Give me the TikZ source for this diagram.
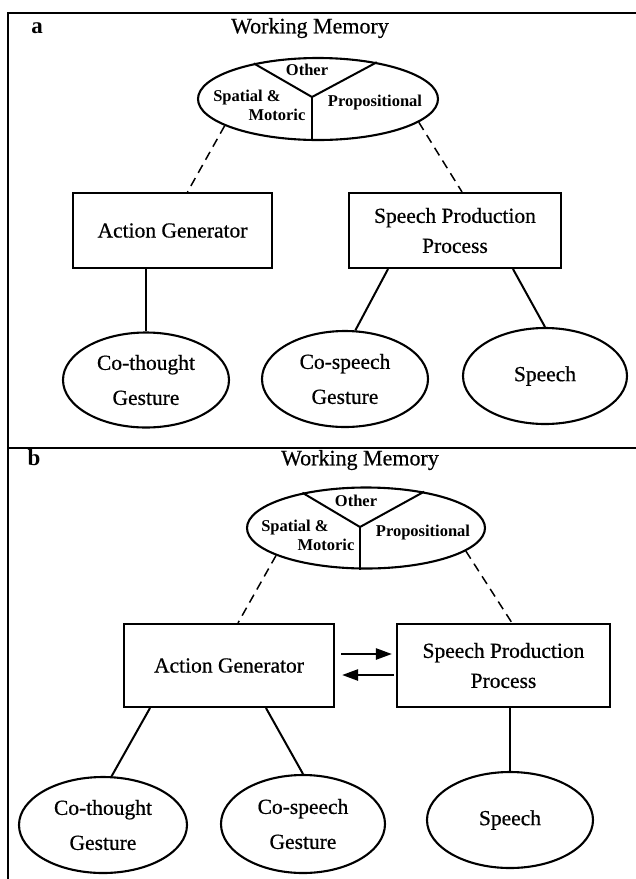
\documentclass[tikz,border=0pt]{standalone}
\usepackage{fontspec}
\setmainfont{Liberation Serif}
\newfontface\heavyserif{Liberation Serif}[FakeBold=0.6]
\usetikzlibrary{arrows.meta,shapes.geometric,calc}
\begin{document}
\begin{tikzpicture}[x=1pt,y=-1pt,
  frameline/.style={line width=2.4pt},
  procbox/.style={draw,line width=2.1pt,rectangle,inner sep=0pt,align=center,
     font=\heavyserif\fontsize{21.5}{30}\selectfont},
  outnode/.style={draw,line width=2.1pt,ellipse,inner sep=0pt,align=center,
     font=\heavyserif\fontsize{21.5}{35}\selectfont},
  wmell/.style={draw,line width=2.1pt,ellipse,inner sep=0pt,minimum width=240pt,minimum height=82pt},
  wmlab/.style={inner sep=0pt,font=\bfseries\fontsize{16.5}{18}\selectfont,text height=.66em,text depth=0pt},
  title/.style={inner sep=0pt,font=\heavyserif\fontsize{22}{24}\selectfont,text height=.66em,text depth=0pt},
  panellab/.style={inner sep=0pt,font=\bfseries\fontsize{23}{24}\selectfont,text height=.5em,text depth=0pt},
  link/.style={line width=2pt},
  dlink/.style={line width=1.5pt,dash pattern=on 9pt off 6pt},
  flow/.style={line width=2.4pt,-{Triangle[length=16pt,width=11pt]}}
]
\useasboundingbox (0,0) rectangle (636,879);
% frame
\coordinate (ftl) at (8,13);
\coordinate (ftr) at (636,13);
\coordinate (fbl) at (8,879);
\coordinate (fml) at (8,448);
\coordinate (fmr) at (636,448);
\draw[frameline] (fbl) -- (ftl) -- (ftr);
\draw[frameline] (fml) -- (fmr);

% ---------------- panel a ----------------
\node[panellab] (la) at (37,31) {a};
\node[title] (wmta) at (310,30) {Working Memory};
\node[wmell] (wma) at (318,99) {};
\coordinate (ja) at ($(wma)+(-6,-2)$);
\draw[line width=2pt] (wma.151) -- (ja) -- (wma.32);
\draw[line width=2pt] (ja) -- (ja |- wma.south);
\node[wmlab] (oa) at ($(wma)+(-11,-27)$) {Other};
\node[wmlab] (sa) at ($(wma)+(-71,-1)$) {Spatial \&};
\node[wmlab] (ma) at ($(wma)+(-41,18)$) {Motoric};
\node[wmlab] (pa) at ($(wma)+(57,4)$) {Propositional};

\node[procbox,minimum width=199pt,minimum height=75pt] (aga) at (172.5,230.5) {Action Generator};
\node[procbox,minimum width=212pt,minimum height=75pt] (sppa) at (455,230.5) {Speech Production\\Process};

\node[outnode,minimum width=166pt,minimum height=95pt] (cta) at (146,380) {Co-thought\\Gesture};
\node[outnode,minimum width=166pt,minimum height=96pt] (csa) at (345,379) {Co-speech\\Gesture};
\node[outnode,minimum width=164pt,minimum height=96pt] (spa) at (545,376) {Speech};

\draw[dlink] (wma.196) -- ([xshift=15pt]aga.north);
\draw[dlink] (wma.-13) -- ([xshift=7pt]sppa.north);
\draw[link] (cta.north |- aga.south) -- (cta.north);
\draw[link] ([xshift=-67pt]sppa.south) -- (csa.78);
\draw[link] ([xshift=58pt]sppa.south) -- (spa.north);

% ---------------- panel b ----------------
\node[panellab] (lb) at (34,463) {b};
\node[title] (wmtb) at (360,462) {Working Memory};
\node[wmell,minimum width=238pt,minimum height=81pt] (wmb) at (366,528) {};
\coordinate (jb) at ($(wmb)+(-6,-1)$);
\draw[line width=2pt] (wmb.151) -- (jb) -- (wmb.32);
\draw[line width=2pt] (jb) -- (jb |- wmb.south);
\node[wmlab] (ob) at ($(wmb)+(-10,-25)$) {Other};
\node[wmlab] (sb) at ($(wmb)+(-71,0)$) {Spatial \&};
\node[wmlab] (mb) at ($(wmb)+(-40,19)$) {Motoric};
\node[wmlab] (pb) at ($(wmb)+(57,5)$) {Propositional};

\node[procbox,minimum width=210pt,minimum height=83pt] (agb) at (229,665.5) {Action Generator};
\node[procbox,minimum width=213pt,minimum height=83pt] (sppb) at (503.5,665.5) {Speech Production\\Process};

\node[outnode,minimum width=168pt,minimum height=96pt] (ctb) at (103,825) {Co-thought\\Gesture};
\node[outnode,minimum width=164pt,minimum height=98pt] (csb) at (303,824) {Co-speech\\Gesture};
\node[outnode,minimum width=166pt,minimum height=96pt] (spb) at (510,820) {Speech};

\draw[dlink] (wmb.197) -- ([xshift=9pt]agb.north);
\draw[dlink] (wmb.-13) -- ([xshift=8.5pt]sppb.north);
\draw[flow,shorten >=4pt] ([shift={(6pt,11.5pt)}]agb.east) -- ([yshift=11.5pt]sppb.west);
\draw[flow,shorten >=7pt] ([shift={(-2pt,-9.5pt)}]sppb.west) -- ([yshift=-9.5pt]agb.east);
\draw[link] ([xshift=-79pt]agb.south) -- (ctb.80);
\draw[link] ([xshift=37pt]agb.south) -- (csb.north);
\draw[link] (spb.north |- sppb.south) -- (spb.north);
\end{tikzpicture}
\end{document}
